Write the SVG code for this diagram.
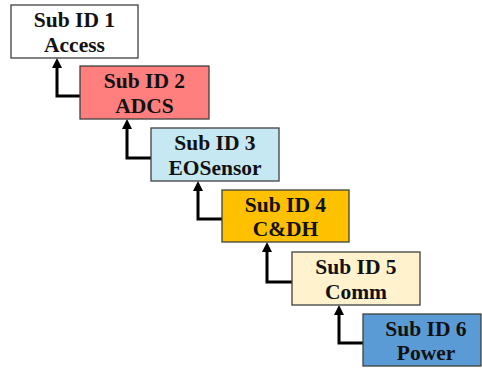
<svg xmlns="http://www.w3.org/2000/svg" width="482" height="368" viewBox="0 0 482 368">
  <defs>
    <marker id="head" viewBox="0 0 10 10" refX="0" refY="5" markerWidth="10" markerHeight="10" markerUnits="userSpaceOnUse" orient="auto">
      <path d="M0,0 L10,5 L0,10 z" fill="#000"/>
    </marker>
  </defs>
  <style>
    .box { stroke: #404040; stroke-width: 1.3; }
    .lbl { font-family: "Liberation Serif", "Times New Roman", serif; font-weight: bold; font-size: 21.5px; fill: #111; text-anchor: middle; }
    .link { fill: none; stroke: #000; stroke-width: 3; stroke-linejoin: miter; marker-end: url(#head); }
  </style>
  <rect width="482" height="368" fill="#fff"/>

  <g id="connectors">
    <path class="link" d="M80,96 H57 V68"/>
    <path class="link" d="M151,158 H127 V129"/>
    <path class="link" d="M222,219 H198 V191"/>
    <path class="link" d="M292,282 H267 V252"/>
    <path class="link" d="M363,343 H339 V315"/>
  </g>

  <g id="sub1">
    <rect class="box" x="11" y="5" width="127" height="53" fill="#ffffff"/>
    <text class="lbl" x="74.5" y="26.5">Sub ID 1</text>
    <text class="lbl" x="74.5" y="51.5">Access</text>
  </g>
  <g id="sub2">
    <rect class="box" x="80" y="66" width="129" height="53" fill="#ff7f7f"/>
    <text class="lbl" x="144.5" y="87.5">Sub ID 2</text>
    <text class="lbl" x="144.5" y="112.5">ADCS</text>
  </g>
  <g id="sub3">
    <rect class="box" x="151" y="128" width="128" height="53" fill="#c5e8f3"/>
    <text class="lbl" x="215" y="149.5">Sub ID 3</text>
    <text class="lbl" x="215" y="174.5">EOSensor</text>
  </g>
  <g id="sub4">
    <rect class="box" x="222" y="190" width="127" height="52" fill="#ffc000"/>
    <text class="lbl" x="285.5" y="211.5">Sub ID 4</text>
    <text class="lbl" x="285.5" y="236">C&amp;DH</text>
  </g>
  <g id="sub5">
    <rect class="box" x="292" y="252" width="128" height="53" fill="#fff2cc"/>
    <text class="lbl" x="356" y="273.5">Sub ID 5</text>
    <text class="lbl" x="356" y="298.5">Comm</text>
  </g>
  <g id="sub6">
    <rect class="box" x="363" y="314" width="118" height="52" fill="#5b9bd5"/>
    <text class="lbl" x="426" y="335.5">Sub ID 6</text>
    <text class="lbl" x="426" y="360">Power</text>
  </g>
</svg>
